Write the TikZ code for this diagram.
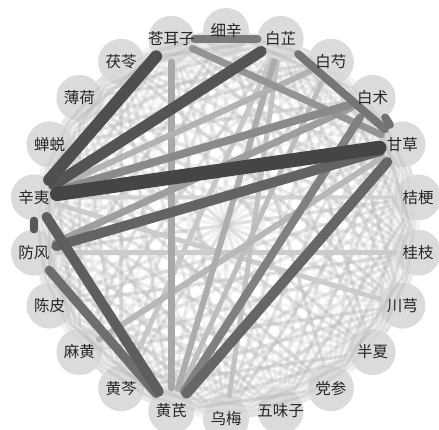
\documentclass[tikz,border=0pt]{standalone}
\usepackage{fontspec}
\newfontfamily\cjk{Noto Sans CJK SC}
\usetikzlibrary{calc}

\def\herbs{xixin,baizhi,baishao,baizhu,gancao,jiegeng,guizhi,chuanxiong,banxia,dangshen,wuweizi,wumei,huangqi,huangqin,mahuang,chenpi,fangfeng,xinyi,chantui,bohe,fuling,cangerzi}

\begin{document}
\begin{tikzpicture}[
    x=1pt, y=1pt,
    % Styles
    herb/.style={
        circle, fill=gray!28,
        minimum size=46pt, inner sep=0pt
    },
    herbname/.style={
        font=\cjk\fontsize{15.5}{16}\selectfont,
        text=black!85, inner sep=0pt
    },
    mesh/.style={draw=gray!60, line width=3.4pt, opacity=#1},
    link/.style={line cap=round}
]
\useasboundingbox (0,0) rectangle (439,430);
\coordinate (hub) at (226,205);

% ── HERB RING (clockwise from the top) ──
\foreach \id [count=\k from 0] in \herbs
    \node[herb] (\id) at ($(hub)+({90-\k*360/22}:194pt)$) {};

% ── FAINT CO-OCCURRENCE MESH ──
\foreach \a [count=\i] in \herbs
    \foreach \b [count=\j] in \herbs
        {\ifnum\j>\i
            \pgfmathsetmacro\op{0.12+0.055*mod(\i*7+\j*13,6)}
            \draw[mesh=\op] (\a) -- (\b);
         \fi}

% ── WEIGHTED LINKS ──
\foreach \a/\b/\g/\w in {
    baizhi/huangqin/22/5, xinyi/chuanxiong/20/5, fangfeng/guizhi/20/5,
    xinyi/jiegeng/18/4, baizhi/wumei/24/5, baishao/huangqi/26/5,
    mahuang/gancao/28/6, baizhi/huangqi/32/6, cangerzi/huangqi/34/7,
    xinyi/baishao/30/6, fangfeng/baizhu/38/7, cangerzi/gancao/42/7,
    xinyi/baizhu/46/8, baizhu/huangqi/50/8, cangerzi/baizhi/52/8,
    baizhi/gancao/54/8, baizhu/gancao/56/8, fangfeng/huangqi/57/9,
    gancao/huangqi/60/10, fangfeng/gancao/61/10, xinyi/huangqi/63/10,
    xinyi/fangfeng/66/8, xinyi/baizhi/67/11, xinyi/cangerzi/69/12,
    xinyi/gancao/73/14}
    \draw[link, draw=black!\g, line width=\w pt] (\a) -- (\b);

% ── HERB NAMES ──
\foreach \id/\txt in {
    xixin/细辛, baizhi/白芷, baishao/白芍, baizhu/白术, gancao/甘草,
    jiegeng/桔梗, guizhi/桂枝, chuanxiong/川芎, banxia/半夏, dangshen/党参,
    wuweizi/五味子, wumei/乌梅, huangqi/黄芪, huangqin/黄芩, mahuang/麻黄,
    chenpi/陈皮, fangfeng/防风, xinyi/辛夷, chantui/蝉蜕, bohe/薄荷,
    fuling/茯苓, cangerzi/苍耳子}
    \node[herbname] (\id-name) at (\id) {\txt};

\end{tikzpicture}
\end{document}
